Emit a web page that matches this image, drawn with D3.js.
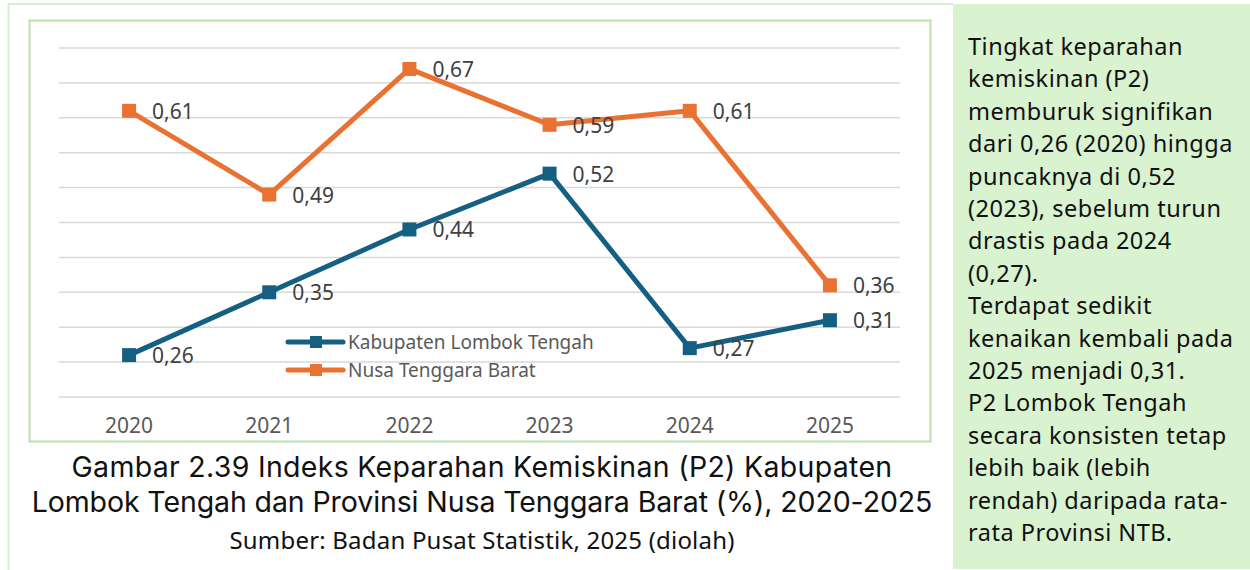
<!DOCTYPE html>
<html>
<head>
<meta charset="utf-8">
<script src="https://cdn.jsdelivr.net/npm/d3@7"></script>
<style>
  body { margin: 0; background: #fff; }
  svg { display: block; font-family: "Noto Sans", "Open Sans", sans-serif; }
</style>
</head>
<body>
<svg id="chart" width="1250" height="570"></svg>
<script>
// data
var years = ["2020", "2021", "2022", "2023", "2024", "2025"];
var lombokTengah = [0.26, 0.35, 0.44, 0.52, 0.27, 0.31];
var ntb = [0.61, 0.49, 0.67, 0.59, 0.61, 0.36];
var seriesNames = ["Kabupaten Lombok Tengah", "Nusa Tenggara Barat"];
var seriesColors = ["#156082", "#E97132"];
var yTicks = d3.range(0.2, 0.7001, 0.05);

var captionLines = [
	"Gambar 2.39 Indeks Keparahan Kemiskinan (P2) Kabupaten",
	"Lombok Tengah dan Provinsi Nusa Tenggara Barat (%), 2020-2025"
];
var sourceText = "Sumber: Badan Pusat Statistik, 2025 (diolah)";
var noteLines = [
	"Tingkat keparahan",
	"kemiskinan (P2)",
	"memburuk signifikan",
	"dari 0,26 (2020) hingga",
	"puncaknya di 0,52",
	"(2023), sebelum turun",
	"drastis pada 2024",
	"(0,27).",
	"Terdapat sedikit",
	"kenaikan kembali pada",
	"2025 menjadi 0,31.",
	"P2 Lombok Tengah",
	"secara konsisten tetap",
	"lebih baik (lebih",
	"rendah) daripada rata-",
	"rata Provinsi NTB."
];

var svg = d3.select("#chart");
var fmt = function (v) { return d3.format(".2f")(v).replace(".", ","); };

// page frame
svg.append("line").attr("x1", 8).attr("x2", 953).attr("y1", 4).attr("y2", 4)
	.attr("stroke", "#d6efd0").attr("stroke-width", 2);
svg.append("line").attr("x1", 8.5).attr("x2", 8.5).attr("y1", 4).attr("y2", 570)
	.attr("stroke", "#d6efd0").attr("stroke-width", 2);
svg.append("rect").attr("x", 953).attr("y", 4).attr("width", 297).attr("height", 565)
	.attr("fill", "#d9f2d0");

// chart frame
svg.append("rect").attr("x", 29.5).attr("y", 20.5).attr("width", 901).attr("height", 421)
	.attr("fill", "#fff").attr("stroke", "#b7e2aa").attr("stroke-width", 2);

var x = d3.scaleBand().domain(years).range([59, 900]);
var y = d3.scaleLinear().domain([0.2, 0.7]).range([397, 48]);
var cx = function (d, i) { return x(years[i]) + x.bandwidth() / 2; };

// gridlines
svg.append("g").selectAll("line").data(yTicks).enter().append("line")
	.attr("x1", 59).attr("x2", 900)
	.attr("y1", function (d) { return y(d); })
	.attr("y2", function (d) { return y(d); })
	.attr("stroke", "#d9d9d9").attr("stroke-width", 1.5);

// x axis labels
var xAxis = svg.append("g").attr("transform", "translate(0,397)")
	.call(d3.axisBottom(x).tickSize(0).tickPadding(21));
xAxis.select(".domain").remove();
xAxis.selectAll("text").attr("font-size", 21).attr("fill", "#595959")
	.attr("font-family", "Noto Sans, sans-serif");

// series
[lombokTengah, ntb].forEach(function (vals, s) {
	var line = d3.line().x(cx).y(function (d) { return y(d); });
	var g = svg.append("g");
	g.append("path").datum(vals).attr("d", line)
		.attr("fill", "none").attr("stroke", seriesColors[s])
		.attr("stroke-width", 5).attr("stroke-linejoin", "round");
	g.selectAll("rect").data(vals).enter().append("rect")
		.attr("x", function (d, i) { return cx(d, i) - 7; })
		.attr("y", function (d) { return y(d) - 7; })
		.attr("width", 14).attr("height", 14)
		.attr("fill", seriesColors[s]);
	g.selectAll("text").data(vals).enter().append("text")
		.attr("x", function (d, i) { return cx(d, i) + 23; })
		.attr("y", function (d) { return y(d) + 8; })
		.attr("font-size", 21).attr("fill", "#404040")
		.text(fmt);
});

// legend
var legend = svg.append("g").selectAll("g").data(seriesNames).enter().append("g")
	.attr("transform", function (d, i) { return "translate(288," + (342 + i * 28) + ")"; });
legend.append("line").attr("x1", 0).attr("x2", 55)
	.attr("stroke", function (d, i) { return seriesColors[i]; })
	.attr("stroke-width", 5).attr("stroke-linecap", "round");
legend.append("rect").attr("x", 22).attr("y", -6).attr("width", 12).attr("height", 12)
	.attr("fill", function (d, i) { return seriesColors[i]; });
legend.append("text").attr("x", 60).attr("y", 7)
	.attr("font-size", 19).attr("fill", "#595959").text(function (d) { return d; });

// caption
svg.append("g").selectAll("text").data(captionLines).enter().append("text")
	.attr("x", 482).attr("y", function (d, i) { return 477 + i * 35; })
	.attr("text-anchor", "middle").attr("font-family", "Inter, sans-serif")
	.attr("font-size", 28.5)
	.attr("letter-spacing", function (d, i) { return i ? -0.1 : 0.3; })
	.attr("fill", "#111")
	.text(function (d) { return d; });
svg.append("text").attr("x", 482).attr("y", 549)
	.attr("text-anchor", "middle").attr("font-size", 24).attr("letter-spacing", 0.2)
	.attr("fill", "#111")
	.text(sourceText);

// note panel
svg.append("g").selectAll("text").data(noteLines).enter().append("text")
	.attr("x", 968).attr("y", function (d, i) { return 55 + i * 32.4; })
	.attr("font-size", 23.5).attr("letter-spacing", 0.5).attr("fill", "#111")
	.text(function (d) { return d; });
</script>
</body>
</html>
